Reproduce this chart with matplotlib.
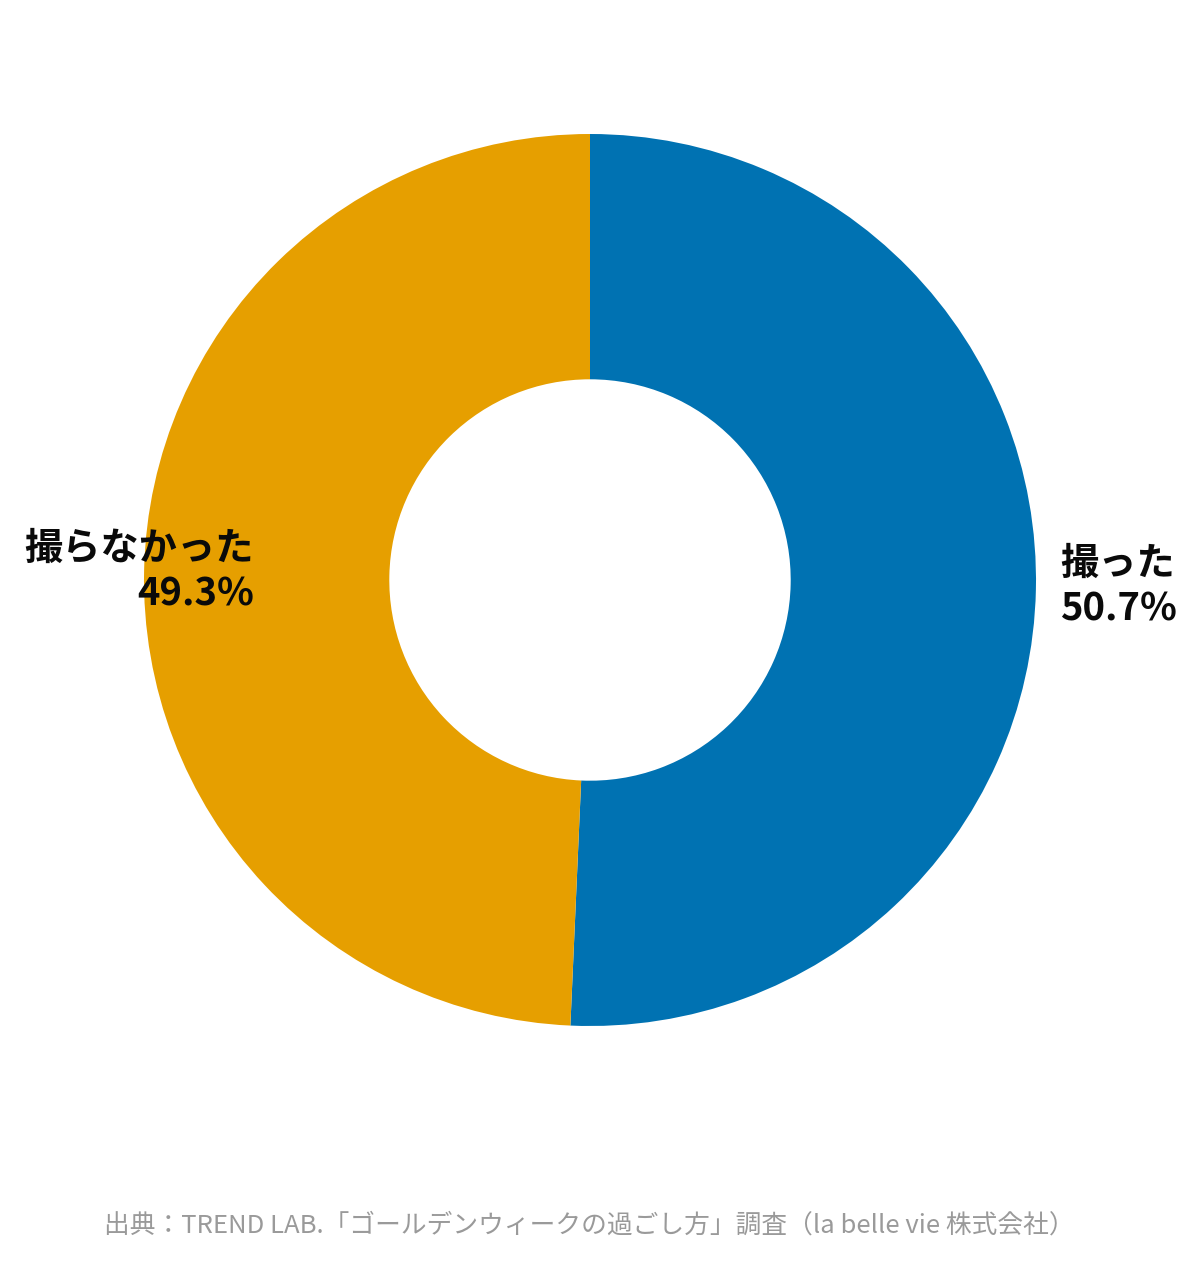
import matplotlib
matplotlib.use('Agg')
import matplotlib.pyplot as plt

plt.rcParams['font.family'] = ['Noto Sans CJK JP', 'DejaVu Sans']

# data
labels = ['撮った', '撮らなかった']
values = [50.7, 49.3]
colors = ['#0072B2', '#E69F00']
source = '出典：TREND LAB.「ゴールデンウィークの過ごし方」調査（la belle vie 株式会社）'

W, H = 1200, 1266
fig = plt.figure(figsize=(W / 100, H / 100), dpi=100, facecolor='white')
ax = fig.add_axes([0, 0, 1, 1])

cx, cy, r = 590, H - 580, 446
ax.pie(values, colors=colors, startangle=90, counterclock=False,
       center=(cx, cy), radius=r, wedgeprops=dict(width=r * 0.55, linewidth=0))
ax.set_xlim(0, W)
ax.set_ylim(0, H)
ax.set_aspect('equal')
ax.axis('off')

# slice labels
ax.text(1060, H - 586, f'{labels[0]}\n{values[0]:.1f}%', ha='left', va='center',
        fontsize=27.5, fontweight='bold', color='#0a0a0a', linespacing=1.2)
ax.text(254, H - 571, f'{labels[1]}\n{values[1]:.1f}%', ha='right', va='center',
        fontsize=27.5, fontweight='bold', color='#0a0a0a', linespacing=1.2)

# source note
ax.text(589, H - 1226, source, ha='center', va='center', fontsize=18.5, color='#9a9a9a')

fig.savefig('out.png', dpi=100, facecolor='white')
